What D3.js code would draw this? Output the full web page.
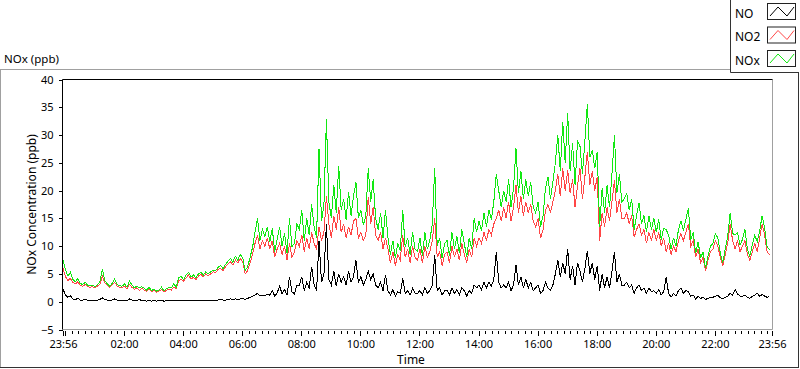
<!DOCTYPE html>
<html lang="en">
<head>
<meta charset="UTF-8">
<title>NOx (ppb)</title>
<script src="https://cdn.jsdelivr.net/npm/d3@7"></script>
<style>
  body { margin: 0; background: #fff; }
  svg text { font-family: "Noto Sans", sans-serif; fill: #000; }
</style>
</head>
<body>
<script>
// sampling of the record: one value every 5 minutes from 23:56
const startTime = "23:56";
const stepMinutes = 5;

const seriesNames = ["NO", "NO2", "NOx"];

// NO (ppb), one row per hour
const noValues = [
  2.3, 1.2, 0.8, 1.1, 0.5, 0.4, 0.6, 0.3, 0.3, 0.4, 0.3, 0.3,
  0.3, 0.2, 0.3, 0.4, 0.7, 0.4, 0.3, 0.2, 0.3, 0.5, 0.3, 0.3,
  0.2, 0.3, 0.2, 0.5, 0.3, 0.2, 0.2, 0.4, 0.2, 0.2, 0.1, 0.2,
  0.1, 0.2, 0.1, 0.2, 0.3, 0.1, 0.2, 0.2, 0.3, 0.3, 0.2, 0.3,
  0.2, 0.2, 0.3, 0.2, 0.2, 0.3, 0.2, 0.2, 0.3, 0.2, 0.3, 0.2,
  0.3, 0.2, 0.3, 0.3, 0.4, 0.3, 0.3, 0.4, 0.5, 0.4, 0.5, 0.4,
  0.5, 0.6, 0.4, 0.6, 0.8, 1.0, 1.2, 1.5, 1.0, 1.2, 1.1, 1.3,
  1.2, 2.0, 1.0, 1.6, 2.8, 1.4, 2.2, 1.2, 4.5, 1.8, 1.4, 3.0,
  3.0, 4.5, 2.0, 3.5, 2.5, 6.3, 3.0, 2.0, 11.0, 3.5, 5.0, 14.0,
  4.0, 3.0, 5.5, 2.8, 5.0, 3.5, 4.5, 3.0, 5.5, 3.5, 4.5, 7.5,
  3.5, 4.5, 3.0, 4.0, 5.5, 4.0, 5.0, 3.0, 2.5, 3.5, 2.0, 4.8,
  2.0, 1.2, 2.2, 1.0, 1.8, 1.5, 4.2, 1.5, 2.0, 1.2, 2.4, 1.5,
  1.5, 2.0, 1.2, 2.5, 1.5, 2.0, 3.0, 8.4, 2.0, 2.5, 1.2, 2.0,
  2.0, 1.2, 2.5, 1.5, 2.2, 1.2, 2.5, 2.0, 1.0, 2.0, 1.5, 3.0,
  2.5, 3.0, 2.2, 3.5, 2.5, 3.5, 2.8, 4.0, 9.0, 3.5, 2.5, 3.0,
  2.5, 3.5, 2.0, 3.0, 6.6, 3.0, 4.5, 2.5, 4.0, 2.5, 3.5, 2.0,
  2.5, 3.0, 1.5, 2.0, 3.5, 2.5, 2.0, 3.0, 5.0, 7.5, 4.5, 7.0,
  5.0, 9.5, 4.0, 6.5, 3.0, 7.0, 5.5, 3.5, 6.0, 9.2, 5.0, 7.0,
  4.0, 6.5, 2.0, 5.0, 2.5, 4.5, 2.5, 5.5, 8.9, 3.5, 5.0, 3.0,
  3.0, 3.5, 2.5, 3.0, 1.5, 2.5, 3.0, 2.0, 2.5, 1.5, 2.5, 1.8,
  2.0, 1.5, 2.2, 1.2, 1.8, 4.4, 1.5, 0.8, 1.5, 1.0, 2.0, 2.5,
  1.5, 2.0, 1.8, 1.0, 1.2, 0.5, 1.0, 0.6, 0.8, 0.4, 0.6, 0.8,
  0.8, 1.0, 1.2, 0.7, 0.5, 0.8, 1.0, 1.5, 1.2, 2.2, 1.4, 1.0,
  1.0, 1.2, 0.8, 0.6, 1.0, 1.2, 1.5, 1.0, 1.3, 1.0, 0.8, 0.9
];

// NO2 (ppb)
const no2Values = [
  6.0, 4.5, 3.8, 4.2, 3.5, 3.2, 3.6, 3.0, 2.8, 3.1, 2.7, 2.6,
  2.7, 2.5, 2.8, 3.2, 4.6, 3.4, 2.9, 2.6, 3.0, 3.5, 2.8, 2.6,
  2.5, 2.8, 2.3, 3.1, 2.6, 2.2, 2.5, 2.0, 2.4, 2.1, 1.9, 2.3,
  1.8, 2.0, 1.7, 1.9, 2.2, 1.8, 2.0, 2.3, 2.1, 2.6, 2.4, 3.8,
  4.0, 3.7, 4.3, 4.8, 4.1, 4.4, 4.0, 4.6, 4.9, 4.5, 5.0, 4.7,
  5.0, 5.4, 5.2, 5.8, 6.0, 5.6, 6.3, 6.8, 7.2, 6.6, 7.5, 7.0,
  7.8, 7.2, 5.0, 5.6, 7.0, 8.5, 10.5, 12.0, 9.5, 11.0, 10.0, 11.5,
  9.5, 11.0, 8.0, 9.5, 10.5, 8.5, 10.0, 7.5, 10.5, 8.0, 9.0, 11.0,
  10.0, 12.0, 9.0, 11.5, 9.5, 12.5, 10.5, 9.5, 13.5, 11.0, 12.5, 19.0,
  14.0, 11.5, 15.5, 13.0, 17.0, 12.5, 14.0, 11.5, 13.5, 12.0, 14.5, 15.0,
  11.5, 12.5, 11.0, 12.0, 18.9, 14.0, 17.0, 12.0, 11.0, 12.5, 9.5, 11.5,
  9.5, 7.0, 9.0, 6.5, 8.5, 7.5, 12.0, 8.0, 9.5, 7.0, 10.0, 8.0,
  7.5, 9.5, 7.0, 10.0, 8.0, 9.0, 11.0, 15.0, 8.0, 9.0, 6.5, 8.5,
  9.0, 7.0, 10.0, 8.0, 9.5, 7.5, 10.5, 8.5, 7.0, 9.5, 8.0, 11.5,
  10.0, 11.5, 10.5, 12.5, 11.0, 13.0, 12.0, 14.0, 15.0, 16.5, 14.5, 17.0,
  15.0, 18.0, 14.5, 17.0, 21.0, 16.0, 19.0, 15.5, 18.0, 16.0, 17.5, 14.5,
  13.5, 15.0, 11.4, 13.0, 16.5, 17.5, 16.0, 18.0, 20.0, 23.0, 19.0, 24.0,
  20.0, 23.7, 19.5, 22.0, 17.0, 21.0, 24.0, 18.5, 22.5, 27.0, 21.0, 23.5,
  20.0, 22.5, 11.0, 16.0, 13.5, 17.0, 14.5, 18.0, 21.9, 16.0, 18.5, 15.0,
  15.0, 16.0, 14.0, 15.5, 11.6, 13.0, 14.0, 12.0, 13.0, 10.5, 12.5, 11.0,
  13.0, 11.0, 12.5, 10.0, 11.5, 9.0, 10.5, 8.5, 10.0, 9.0, 11.0, 12.3,
  11.0, 12.5, 14.0, 10.0, 11.0, 8.0, 9.5, 7.0, 8.0, 5.5, 7.5, 9.0,
  9.5, 11.0, 10.0, 8.0, 6.5, 8.5, 10.5, 14.0, 11.0, 9.5, 11.0, 9.0,
  10.0, 11.0, 8.5, 7.5, 9.0, 10.5, 9.0, 11.5, 14.0, 12.0, 9.0, 8.5
];

// NOx (ppb)
const noxValues = [
  7.5, 5.8, 4.6, 5.3, 4.0, 3.6, 4.2, 3.3, 3.1, 3.5, 3.0, 2.9,
  3.0, 2.7, 3.1, 3.6, 5.9, 3.8, 3.2, 2.8, 3.3, 4.1, 3.1, 2.9,
  2.8, 3.2, 2.6, 3.7, 3.0, 2.5, 2.8, 2.5, 2.7, 2.4, 2.1, 2.6,
  2.0, 2.3, 1.9, 2.1, 2.6, 2.0, 2.3, 2.6, 2.5, 3.2, 2.7, 4.4,
  4.5, 4.0, 4.8, 5.3, 4.4, 4.8, 4.3, 5.0, 5.3, 4.8, 5.4, 5.0,
  5.4, 5.7, 5.6, 6.2, 6.5, 6.0, 6.7, 7.3, 7.8, 7.1, 8.2, 7.5,
  8.5, 7.9, 5.6, 6.3, 8.0, 9.8, 12.5, 15.0, 11.0, 13.0, 11.8, 13.5,
  10.8, 13.2, 9.0, 11.2, 13.5, 10.0, 12.3, 8.8, 15.0, 9.9, 10.5, 14.0,
  13.0, 16.5, 11.0, 15.0, 12.0, 17.5, 13.5, 11.5, 27.5, 14.5, 17.5, 32.8,
  18.0, 15.0, 21.0, 16.0, 24.5, 16.5, 18.5, 14.8, 19.8, 15.5, 19.0, 21.5,
  15.0, 16.5, 13.8, 15.5, 24.0, 18.0, 22.0, 15.0, 13.0, 16.0, 11.5, 16.5,
  11.5, 8.5, 11.0, 7.8, 10.5, 9.2, 16.5, 9.8, 11.5, 8.5, 12.5, 9.5,
  9.0, 11.5, 8.2, 12.5, 9.5, 11.0, 14.0, 24.0, 10.0, 11.5, 7.8, 10.5,
  11.0, 8.2, 12.5, 9.5, 11.8, 8.7, 13.0, 10.5, 8.0, 11.5, 9.5, 15.0,
  12.5, 14.5, 12.8, 16.0, 13.5, 16.5, 14.8, 18.0, 23.0, 20.0, 17.0, 20.0,
  18.0, 22.0, 17.0, 20.5, 27.6, 19.5, 23.5, 18.5, 22.0, 19.0, 21.5, 17.0,
  16.0, 18.0, 13.5, 15.5, 20.5, 22.4, 18.5, 21.5, 25.0, 30.0, 23.5, 32.4,
  25.0, 34.0, 23.5, 28.5, 21.0, 29.0, 28.0, 23.0, 29.0, 35.6, 26.0, 27.3,
  24.0, 27.0, 13.5, 20.5, 16.0, 21.0, 17.0, 23.0, 30.0, 19.5, 23.0, 18.0,
  18.5, 19.5, 16.5, 18.5, 13.0, 15.5, 17.8, 14.0, 15.5, 12.5, 15.5, 13.0,
  15.0, 12.5, 14.8, 11.2, 13.2, 13.0, 12.0, 9.5, 11.5, 10.0, 13.0, 14.5,
  12.8, 14.8, 16.8, 11.2, 12.5, 8.7, 10.8, 7.8, 9.0, 6.0, 8.2, 10.0,
  10.5, 12.2, 11.5, 8.8, 7.0, 9.5, 11.8, 16.0, 12.3, 12.0, 12.5, 10.2,
  11.2, 13.0, 9.5, 8.2, 10.2, 12.0, 10.8, 12.8, 15.5, 13.2, 10.0, 9.3
];

const yTickValues = [-5, 0, 5, 10, 15, 20, 25, 30, 35, 40];
const xTickLabels = ["23:56", "02:00", "04:00", "06:00", "08:00", "10:00", "12:00",
  "14:00", "16:00", "18:00", "20:00", "22:00", "23:56"];
const xMajorTicks = ["00:00", "02:00", "04:00", "06:00", "08:00", "10:00", "12:00",
  "14:00", "16:00", "18:00", "20:00", "22:00"];
const minorStepMinutes = 800 / 60;

const colors = { NO: "#000000", NO2: "#ff4646", NOx: "#12e812" };

const W = 800, H = 369;
const plot = { left: 62.5, top: 79.5, right: 772.5, bottom: 329.5 };

function clockToMin(s) {
  const [h, m] = s.split(":").map(Number);
  return h * 60 + m;
}
const startMin = clockToMin(startTime);
function offsetOf(label) {
  return (clockToMin(label) - startMin + 1440) % 1440;
}

const svg = d3.select("body").append("svg")
  .attr("width", W)
  .attr("height", H);

// outer panel frame
svg.append("path").attr("d", "M0,69.5H730.5M0.5,69.5V367").attr("stroke", "#a0a0a0").attr("fill", "none");
svg.append("path").attr("d", "M0,367.5H799M798.5,72V368").attr("stroke", "#333").attr("fill", "none");

svg.append("text")
  .attr("x", 4).attr("y", 63)
  .style("font-size", "11.5px")
  .text("NOx (ppb)");

const x = d3.scaleLinear().domain([0, 1440]).range([63, 772]);
const y = d3.scaleLinear().domain([-5, 40]).range([plot.bottom, plot.top]);

// plot frame
svg.append("path")
  .attr("d", `M${plot.right},${plot.top}V${plot.bottom}H${plot.left}`)
  .attr("stroke", "#a0a0a0").attr("fill", "none");

// lines
const defs = svg.append("defs");
defs.append("clipPath").attr("id", "clip")
  .append("rect")
  .attr("x", plot.left + 0.5).attr("y", plot.top + 0.5)
  .attr("width", plot.right - plot.left - 0.5)
  .attr("height", plot.bottom - plot.top - 1);

const seriesValues = { NO: noValues, NO2: no2Values, NOx: noxValues };
const line = d3.line()
  .x((d, i) => x(i * stepMinutes))
  .y(d => y(d));

const lines = svg.append("g").attr("clip-path", "url(#clip)");
seriesNames.forEach(name => {
  lines.append("path")
    .datum(seriesValues[name])
    .attr("d", line)
    .attr("fill", "none")
    .attr("stroke", colors[name])
    .attr("stroke-width", 1)
    .attr("shape-rendering", "crispEdges");
});

svg.append("path")
  .attr("d", `M${plot.left},${plot.bottom}V${plot.top}H${plot.right}`)
  .attr("stroke", "#000").attr("fill", "none");

// y axis
const yAxis = svg.append("g")
  .attr("transform", `translate(${plot.left},0)`)
  .call(d3.axisLeft(y).tickValues(yTickValues).tickSize(4).tickPadding(5));
yAxis.select(".domain").remove();
yAxis.selectAll("text").style("font-size", "11px").attr("font-family", null);

// x axis: minor ticks
const majorOffsets = xMajorTicks.map(offsetOf);
const minorOffsets = d3.range(offsetOf("00:00"), 1440, minorStepMinutes)
  .filter(t => !majorOffsets.some(m => Math.abs(m - t) < 1));
const xMinor = svg.append("g")
  .attr("transform", `translate(0,${plot.bottom + 1.5})`)
  .call(d3.axisBottom(x).tickValues(minorOffsets).tickSize(3).tickFormat(""));
xMinor.select(".domain").remove();

const xMajor = svg.append("g")
  .attr("transform", `translate(0,${plot.bottom + 1.5})`)
  .call(d3.axisBottom(x).tickValues(majorOffsets).tickSize(5).tickFormat(""));
xMajor.select(".domain").remove();

const labelOffsets = xTickLabels.map((s, i) => i === xTickLabels.length - 1 ? 1440 : offsetOf(s));
const xLab = svg.append("g")
  .attr("transform", `translate(0,${plot.bottom + 1.5})`)
  .call(d3.axisBottom(x).tickValues(labelOffsets).tickSize(5).tickPadding(4)
    .tickFormat((d, i) => xTickLabels[i]));
xLab.select(".domain").remove();
xLab.selectAll("text").style("font-size", "11px").attr("font-family", null);

svg.selectAll(".tick line").attr("stroke", "#000").attr("shape-rendering", "crispEdges");

// axis titles
svg.append("text")
  .attr("x", 411).attr("y", 364)
  .attr("text-anchor", "middle")
  .style("font-size", "12px")
  .text("Time");

svg.append("text")
  .attr("transform", `translate(36,${(plot.top + plot.bottom) / 2}) rotate(-90)`)
  .attr("text-anchor", "middle")
  .style("font-size", "12px")
  .text("NOx Concentration (ppb)");

// legend
const legend = svg.append("g");
legend.append("path").attr("d", "M730.5,0V72.5H799").attr("stroke", "#333").attr("fill", "none");

const item = legend.selectAll(".legend-item")
  .data(seriesNames)
  .enter().append("g")
  .attr("class", "legend-item")
  .attr("transform", (d, i) => `translate(0,${i * 23.5})`);

item.append("text")
  .attr("x", 735).attr("y", 17.5)
  .style("font-size", "12px")
  .text(d => d);

item.append("rect")
  .attr("x", 767.5).attr("y", 3.5)
  .attr("width", 28).attr("height", 16)
  .attr("fill", "#fff").attr("stroke", "#222");

item.append("path")
  .attr("d", "M770,16L778,7L787,16L794,7")
  .attr("fill", "none")
  .attr("stroke", d => colors[d]);
</script>
</body>
</html>
